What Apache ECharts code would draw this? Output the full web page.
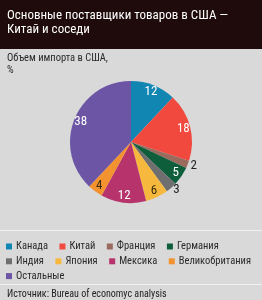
<!DOCTYPE html>
<html><head><meta charset="utf-8">
<script src="https://cdn.jsdelivr.net/npm/echarts@6/dist/echarts.min.js"></script>
<style>html,body{margin:0;padding:0;background:#d9d9d9}#c{width:262px;height:300px}</style>
</head><body><div id="c"></div>
<script>
const categories = ['Канада','Китай','Франция','Германия','Индия','Япония','Мексика','Великобритания','Остальные'];
const values = [12, 18, 2, 5, 3, 6, 12, 4, 38];
const colors = ['#1186b3','#f2493f','#9a6b5c','#0e5e3b','#6f6f6f','#f7b93d','#b7336b','#f39330','#6c55a5'];
const legendRows = [['Канада','Китай','Франция','Германия'],['Индия','Япония','Мексика','Великобритания'],['Остальные']];
const titleText = 'Основные поставщики товаров в США —\nКитай и соседи';
const subtitleText = 'Объем импорта в США,\n%';
const sourceText = 'Источник: Bureau of economyc analysis';

const darkLabel = new Set(['Япония','Великобритания']);
const outsideLabel = new Set(['Франция','Индия']);
const FONT = "'Roboto Condensed', sans-serif";

const chart = echarts.init(document.getElementById('c'), null, {renderer:'canvas'});
const pieData = categories.map((n,i)=>({name:n, value:values[i], itemStyle:{color:colors[i]}}));
const labelData = categories.map((n,i)=>{
  const o = {name:n, value:values[i], itemStyle:{color:'rgba(0,0,0,0)'}};
  if (outsideLabel.has(n)) {
    o.label = {position:'outside', color:'#222', distanceToLabelLine:0};
    o.labelLine = {show:false, length:3, length2:0};
  } else if (darkLabel.has(n)) {
    o.label = {color:'#3a2a10'};
  }
  return o;
});
chart.setOption({
  backgroundColor:'#d9d9d9',
  animation:false,
  graphic:[
    {type:'rect', shape:{x:0,y:0,width:262,height:49}, style:{fill:'#1f0b0b'}, z:-1},
    {type:'line', shape:{x1:0,y1:230.5,x2:262,y2:230.5}, style:{stroke:'#f2f2f2',lineWidth:1}},
    {type:'line', shape:{x1:0,y1:284.5,x2:262,y2:284.5}, style:{stroke:'#f2f2f2',lineWidth:1}}
  ],
  title:[
    {text:titleText, left:7, top:8, padding:0, textStyle:{color:'#fff', fontSize:13, lineHeight:14.5, fontWeight:'normal', fontFamily:FONT}},
    {text:subtitleText, left:7, top:52, padding:0, textStyle:{color:'#2a2a2a', fontSize:10.5, lineHeight:12, fontWeight:'normal', fontFamily:FONT}},
    {text:sourceText, left:7, top:288, padding:0, textStyle:{color:'#222', fontSize:10, lineHeight:12, fontWeight:'normal', fontFamily:FONT}}
  ],
  legend: legendRows.map((row,i)=>({
    data:row, left:6, top:241+i*14.8, width:256, padding:0, orient:'horizontal',
    icon:'rect', itemWidth:6, itemHeight:6, itemGap:11.5, selectedMode:false,
    textStyle:{color:'#2a2a2a', fontSize:10.5, fontFamily:FONT, padding:[0,0,0,-1]}
  })),
  series:[
    {type:'pie', center:[131,142], radius:61, startAngle:90, clockwise:true, silent:true,
     label:{show:false}, labelLine:{show:false}, data:pieData},
    {type:'pie', center:[131,142], radius:[41,61], startAngle:90, clockwise:true, silent:true,
     legendHoverLink:false,
     label:{show:true, position:'inside', color:'#fff', fontSize:13, fontFamily:FONT, formatter:'{c}'},
     labelLine:{show:false}, data:labelData}
  ]
});
</script></body></html>
